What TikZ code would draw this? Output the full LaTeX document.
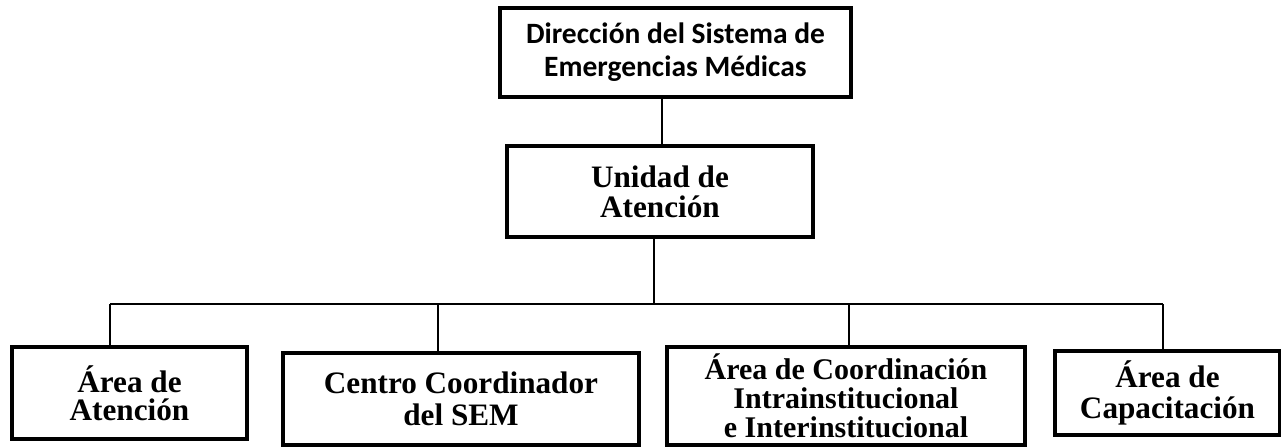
\documentclass[tikz,border=0pt]{standalone}
\usepackage{fontspec}
\setmainfont{Liberation Serif}
\newfontfamily\carlito{Carlito}
\begin{document}
\begin{tikzpicture}[x=0.5pt, y=-0.5pt,
    caja/.style={rectangle, draw=black, line width=2pt, inner sep=0pt, align=center},
    texto/.style={font=\bfseries\fontsize{15.6}{#1}\selectfont},
    enlace/.style={draw=black, line width=1.2pt}]
    \useasboundingbox (0,0) rectangle (1281,446);
    % upper levels
    \node[caja, line width=1.6pt, minimum width=175.5pt, minimum height=44.5pt,
        font=\carlito\bfseries\fontsize{14.75}{16.5}\selectfont] (direccion) at (675.5,52.5)
        {Dirección del Sistema de\\Emergencias Médicas};
    \node[caja, minimum width=153pt, minimum height=45.5pt, texto=15] (unidad) at (660,191.5)
        {Unidad de\\Atención};
    % areas
    \node[caja, minimum width=117.5pt, minimum height=46pt, texto=14] (atencion) at (129.5,393)
        {Área de\\Atención};
    \node[caja, minimum width=178pt, minimum height=46pt, texto=16] (centro) at (461,399)
        {Centro Coordinador\\del SEM};
    \node[caja, minimum width=179pt, minimum height=49pt,
        font=\bfseries\fontsize{15}{14.6}\selectfont] (coordinacion) at (846,396)
        {Área de Coordinación\\Intrainstitucional\\e Interinstitucional};
    \node[caja, minimum width=112.5pt, minimum height=42pt, texto=13] (capacitacion) at (1167.5,393)
        {\strut Área de\\Capacitación};

    \coordinate (t1) at (662,0);
    \coordinate (t2) at (654,304);
    \draw[enlace] (direccion.south -| t1) -- (unidad.north -| t1);
    \draw[enlace] (unidad.south -| t2) -- (t2);

    \coordinate (b1) at (110,304);
    \coordinate (b2) at (438,304);
    \coordinate (b3) at (849,304);
    \coordinate (b4) at (1163,304);
    \draw[enlace] (b1) -- (b4);
    \foreach \n/\c in {atencion/b1, centro/b2, coordinacion/b3, capacitacion/b4}
    {
        \draw[enlace] (\c) -- (\n.north -| \c);
    }
\end{tikzpicture}
\end{document}
